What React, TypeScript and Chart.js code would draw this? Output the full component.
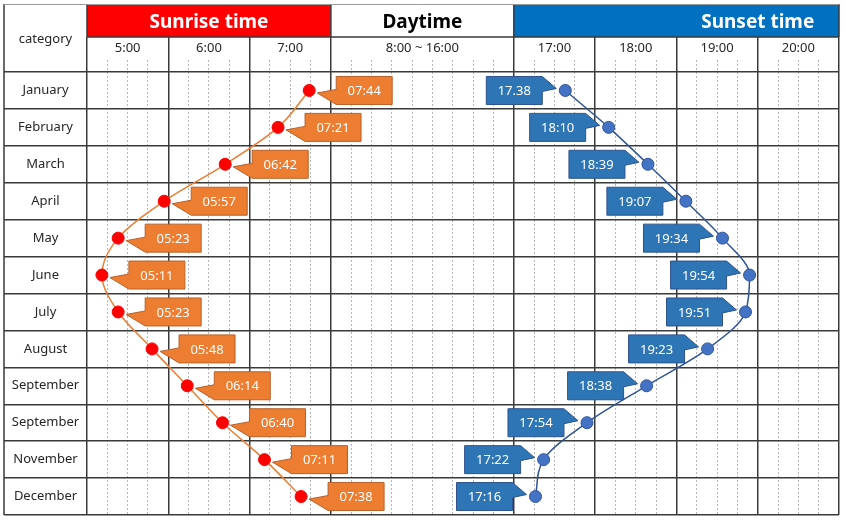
import React, { useEffect, useRef } from 'react';
import { Chart, registerables } from 'chart.js';

Chart.register(...registerables);

// ---------- data ----------
const months = ['January', 'February', 'March', 'April', 'May', 'June', 'July', 'August', 'September', 'September', 'November', 'December'];
const sunriseTimes = ['07:44', '07:21', '06:42', '05:57', '05:23', '05:11', '05:23', '05:48', '06:14', '06:40', '07:11', '07:38'];
const sunsetTimes = ['17.38', '18:10', '18:39', '19:07', '19:34', '19:54', '19:51', '19:23', '18:38', '17:54', '17:22', '17:16'];
const sunriseHours = [5, 6, 7];
const sunsetHours = [17, 18, 19, 20];
const daytimeLabel = '8:00 ~ 16:00';
const sectionTitles = ['Sunrise time', 'Daytime', 'Sunset time'];
const cornerLabel = 'category';

// ---------- axis mapping (quarter-hour units on a broken time axis) ----------
const toMin = (s: string) => {
  const [h, m] = s.split(/[:.]/).map(Number);
  return h * 60 + m;
};
const SR0 = 5 * 60;
const SS0 = 17 * 60;
const srAxis = (min: number) => (min - SR0) / 15;
const DAY_START = srAxis(8 * 60); // 12
const DAY_UNITS = 9;
const DAY_END = DAY_START + DAY_UNITS; // 21
const ssAxis = (min: number) => DAY_END + (min - SS0) / 15;
const AX_MAX = ssAxis(21 * 60); // 37

const majorTicks = [
  ...sunriseHours.map((h) => srAxis(h * 60)),
  DAY_START,
  ...sunsetHours.map((h) => ssAxis(h * 60)),
  AX_MAX,
];
const minorTicks: number[] = [];
for (let v = 0; v <= AX_MAX; v++) if (!majorTicks.includes(v)) minorTicks.push(v);

const labelTicks = [
  ...sunriseHours.map((h) => srAxis(h * 60 + 30)),
  (DAY_START + DAY_END) / 2,
  ...sunsetHours.map((h) => ssAxis(h * 60 + 30)),
];
const labelTexts = [...sunriseHours.map((h) => `${h}:00`), daytimeLabel, ...sunsetHours.map((h) => `${h}:00`)];

const FAMILY = '"Noto Sans", "Open Sans", sans-serif';
const LINE = '#3a3a3a';
const TEXT = '#262626';

const setTicks = (vals: number[]) => (scale: any) => {
  scale.ticks = vals.map((v) => ({ value: v }));
};

// ---------- plugins ----------
const bgPlugin = {
  id: 'bg',
  beforeDraw(chart: any) {
    const { ctx, width, height } = chart;
    ctx.save();
    ctx.fillStyle = '#ffffff';
    ctx.fillRect(0, 0, width, height);
    ctx.restore();
  },
};

const headerPlugin = {
  id: 'tableHeader',
  afterDraw(chart: any, _args: any, opts: any) {
    const { ctx } = chart;
    const xs = chart.scales.xMajor;
    const ys = chart.scales.y;
    const px = (v: number) => xs.getPixelForValue(v);
    const top = opts.top;
    const mid = chart.scales.xTop.top;
    const left = ys.left;
    const right = px(AX_MAX);
    const bottom = chart.chartArea.bottom;
    ctx.save();
    // title cells
    opts.sections.forEach((s: any) => {
      const x0 = px(s.from);
      const x1 = px(s.to);
      ctx.fillStyle = s.fill;
      ctx.fillRect(x0, top, x1 - x0, mid - top);
      ctx.fillStyle = s.color;
      ctx.font = `bold 19px ${FAMILY}`;
      ctx.textAlign = 'center';
      ctx.textBaseline = 'middle';
      ctx.fillText(s.title, px(s.textAt), (top + mid) / 2 + 2);
    });
    // corner cell text
    ctx.fillStyle = TEXT;
    ctx.font = `13px ${FAMILY}`;
    ctx.textAlign = 'center';
    ctx.textBaseline = 'middle';
    ctx.fillText(cornerLabel, (left + px(0)) / 2, (top + chart.chartArea.top) / 2 + 1);
    // borders
    ctx.strokeStyle = LINE;
    ctx.lineWidth = 1.5;
    ctx.beginPath();
    ctx.moveTo(px(0), mid);
    ctx.lineTo(right, mid);
    [0, DAY_START, DAY_END, AX_MAX].forEach((v) => {
      ctx.moveTo(px(v), top);
      ctx.lineTo(px(v), mid);
    });
    ctx.moveTo(left, top);
    ctx.lineTo(left, bottom);
    ctx.stroke();
    ctx.strokeStyle = '#9a9a9a';
    ctx.lineWidth = 1;
    ctx.beginPath();
    ctx.moveTo(left, top + 0.5);
    ctx.lineTo(right, top + 0.5);
    ctx.stroke();
    ctx.restore();
  },
};

const calloutPlugin = {
  id: 'callouts',
  afterDatasetsDraw(chart: any, _args: any, opts: any) {
    const { ctx } = chart;
    opts.sets.forEach((set: any, di: number) => {
      const meta = chart.getDatasetMeta(di);
      meta.data.forEach((pt: any, i: number) => {
        const { x, y } = pt.getProps(['x', 'y'], true);
        const w = 56;
        const h = 28;
        const gap = 27;
        const by = y - h / 2;
        ctx.save();
        ctx.beginPath();
        if (set.side === 'right') {
          const bx = x + gap;
          ctx.moveTo(bx, by);
          ctx.lineTo(bx + w, by);
          ctx.lineTo(bx + w, by + h);
          ctx.lineTo(bx, by + h);
          ctx.lineTo(x + 8, y + 2.5);
          ctx.lineTo(bx, y - 1);
          ctx.closePath();
        } else {
          const bx = x - gap + 4 - w;
          ctx.moveTo(bx, by);
          ctx.lineTo(bx + w, by);
          ctx.lineTo(x - 9, y - 2);
          ctx.lineTo(bx + w, y + 1);
          ctx.lineTo(bx + w, by + h);
          ctx.lineTo(bx, by + h);
          ctx.closePath();
        }
        ctx.fillStyle = set.fill;
        ctx.fill();
        ctx.strokeStyle = set.stroke;
        ctx.lineWidth = 1;
        ctx.stroke();
        ctx.fillStyle = '#ffffff';
        ctx.font = `13px ${FAMILY}`;
        ctx.textAlign = 'center';
        ctx.textBaseline = 'middle';
        const cx = set.side === 'right' ? x + gap + w / 2 : x - gap + 4 - w / 2;
        ctx.fillText(set.texts[i], cx, y + 1);
        ctx.restore();
      });
    });
  },
};

export default function App() {
  const ref = useRef<HTMLCanvasElement>(null);

  useEffect(() => {
    const canvas = ref.current as HTMLCanvasElement;
    const m = canvas.getContext('2d') as CanvasRenderingContext2D;
    m.font = `13px ${FAMILY}`;
    const widest = Math.max(...months.map((t) => m.measureText(t).width));
    const CAT_W = 83;
    const yPad = CAT_W / 2 - CAT_W - widest / 2;

    const chart = new Chart(canvas, {
      type: 'line',
      data: {
        labels: months,
        datasets: [
          {
            label: 'Sunrise',
            data: sunriseTimes.map((t, i) => ({ x: srAxis(toMin(t)), y: i })),
            xAxisID: 'x',
            yAxisID: 'y',
            borderColor: '#ED7D31',
            borderWidth: 1.5,
            pointBackgroundColor: '#FF0000',
            pointBorderColor: '#FF0000',
            pointBorderWidth: 1,
            pointRadius: 6,
            tension: 0.4,
            cubicInterpolationMode: 'monotone',
            fill: false,
          },
          {
            label: 'Sunset',
            data: sunsetTimes.map((t, i) => ({ x: ssAxis(toMin(t)), y: i })),
            xAxisID: 'x',
            yAxisID: 'y',
            borderColor: '#2F5597',
            borderWidth: 1.5,
            pointBackgroundColor: '#4472C4',
            pointBorderColor: '#2F5597',
            pointBorderWidth: 1,
            pointRadius: 6,
            tension: 0.4,
            cubicInterpolationMode: 'monotone',
            fill: false,
          },
        ],
      } as any,
      options: {
        responsive: false,
        animation: false,
        indexAxis: 'y',
        layout: { padding: { top: 37, left: 4, right: 5, bottom: 5 } },
        plugins: {
          legend: { display: false },
          tooltip: { enabled: false },
          tableHeader: {
            top: 4,
            sections: [
              { from: 0, to: DAY_START, fill: '#FF0000', color: '#ffffff', title: sectionTitles[0], textAt: DAY_START / 2 },
              { from: DAY_START, to: DAY_END, fill: '#ffffff', color: '#000000', title: sectionTitles[1], textAt: (DAY_START + DAY_END) / 2 },
              { from: DAY_END, to: AX_MAX, fill: '#0070C0', color: '#ffffff', title: sectionTitles[2], textAt: 33 },
            ],
          },
          callouts: {
            sets: [
              { side: 'right', texts: sunriseTimes, fill: '#ED7D31', stroke: '#B8612A' },
              { side: 'left', texts: sunsetTimes, fill: '#2E75B6', stroke: '#2F528F' },
            ],
          },
        } as any,
        scales: {
          xTop: {
            type: 'linear',
            axis: 'x',
            position: 'top',
            weight: 2,
            min: 0,
            max: AX_MAX,
            afterBuildTicks: setTicks(labelTicks),
            afterFit: (s: any) => {
              s.height = 35;
            },
            grid: { display: false },
            border: { display: false },
            ticks: {
              autoSkip: false,
              maxRotation: 0,
              padding: 8,
              color: TEXT,
              font: { family: FAMILY, size: 13 },
              callback: (_v: any, i: number) => labelTexts[i],
            },
          },
          xMajor: {
            type: 'linear',
            axis: 'x',
            position: 'top',
            weight: 1,
            min: 0,
            max: AX_MAX,
            afterBuildTicks: setTicks(majorTicks),
            afterFit: (s: any) => {
              s.height = 0;
            },
            grid: {
              color: LINE,
              lineWidth: 1.5,
              drawTicks: true,
              tickLength: 35,
              tickColor: LINE,
              tickWidth: 1.5,
            },
            border: { display: false },
            ticks: { display: false },
          },
          x: {
            type: 'linear',
            position: 'top',
            weight: 0,
            min: 0,
            max: AX_MAX,
            afterBuildTicks: setTicks(minorTicks),
            afterFit: (s: any) => {
              s.height = 0;
            },
            grid: {
              color: '#b5b5b5',
              lineWidth: 1,
              drawTicks: true,
              tickLength: 12,
              tickColor: '#b5b5b5',
              tickWidth: 1,
              tickBorderDash: [2, 2],
            },
            border: { display: false, dash: [2, 2] },
            ticks: { display: false },
          },
          y: {
            type: 'category',
            position: 'left',
            offset: true,
            afterFit: (s: any) => {
              s.width = CAT_W;
            },
            grid: {
              offset: true,
              color: LINE,
              lineWidth: 1.5,
              drawTicks: true,
              tickLength: CAT_W,
              tickColor: LINE,
              tickWidth: 1.5,
            },
            border: { display: false },
            ticks: {
              crossAlign: 'center',
              padding: yPad,
              color: TEXT,
              font: { family: FAMILY, size: 13 },
            },
          },
        } as any,
      },
      plugins: [bgPlugin, headerPlugin, calloutPlugin],
    });

    return () => chart.destroy();
  }, []);

  return (
    <div style={{ position: 'fixed', left: 0, top: 0, width: 846, height: 522, background: '#ffffff' }}>
      <canvas ref={ref} width={846} height={522} style={{ display: 'block' }} />
    </div>
  );
}
